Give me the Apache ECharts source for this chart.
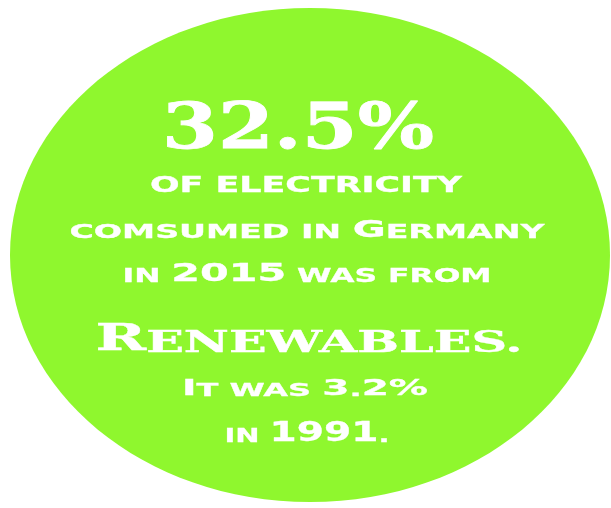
<!DOCTYPE html>
<html>
<head>
<meta charset="utf-8">
<script src="https://cdn.jsdelivr.net/npm/echarts@6/dist/echarts.min.js"></script>
<style>
  html, body { margin: 0; padding: 0; background: #fff; }
  #main { width: 611px; height: 508px; }
</style>
</head>
<body>
<div id="main"></div>
<script>
// headline figures
var share2015 = 32.5;
var share1991 = 3.2;
var years = [2015, 1991];
var country = 'Germany';

// text lines, in reading order
var lines = [
  share2015 + '%',
  'of electricity',
  'comsumed in ' + country,
  'in ' + years[0] + ' was from',
  'Renewables.',
  'It was ' + share1991 + '%',
  'in ' + years[1] + '.'
];

var SANS = '"DejaVu Sans"';
var SERIF = '"DejaVu Serif"';

// per line: font, sizes of caps / small caps / digits, baseline y, width, centre x, extra weight
var layout = [
  { font: SERIF, cap: 64, sc: 64, num: 64, y: 149, w: 272, x: 298, bold: 0.8 },
  { font: SANS, cap: 23, sc: 21, num: 23, y: 192, w: 312, x: 306, bold: 0.3 },
  { font: SANS, cap: 23, sc: 19, num: 25, y: 237, w: 475, x: 307, bold: 0.3 },
  { font: SANS, cap: 23, sc: 19, num: 25, y: 281, w: 369, x: 307, bold: 0.3 },
  { font: SERIF, cap: 37, sc: 30, num: 37, y: 351, w: 427, x: 309, bold: 0.4 },
  { font: SANS, cap: 22, sc: 18, num: 22, y: 395, w: 246, x: 305, bold: 0.3 },
  { font: SANS, cap: 20, sc: 20, num: 27, y: 441, w: 165, x: 307, bold: 0.3 }
];

var ctx = document.createElement('canvas').getContext('2d');

// split a line into small-caps runs
function runs(str) {
  var out = [];
  for (var i = 0; i < str.length; i++) {
    var c = str[i];
    var kind = /[A-Z]/.test(c) ? 'cap' : /[0-9%]/.test(c) ? 'num' : 'sc';
    var last = out[out.length - 1];
    if (last && last.kind === kind) last.text += c.toUpperCase();
    else out.push({ kind: kind, text: c.toUpperCase() });
  }
  return out;
}

function makeLine(str, L) {
  var parts = runs(str);
  var width = 0;
  var markup = '';
  parts.forEach(function (p) {
    ctx.font = 'bold ' + L[p.kind] + 'px ' + L.font;
    width += ctx.measureText(p.text).width;
    markup += '{' + p.kind + '|' + p.text + '}';
  });
  var maxSize = Math.max(L.cap, L.sc, L.num);
  var rich = {};
  ['cap', 'sc', 'num'].forEach(function (k) {
    rich[k] = {
      fontSize: L[k],
      fontFamily: L.font,
      fontWeight: 'bold',
      lineHeight: maxSize,
      verticalAlign: 'bottom'
    };
  });
  return {
    type: 'text',
    x: L.x,
    y: L.y + Math.round(maxSize * 0.22),
    scaleX: L.w / width,
    z: 10,
    style: {
      text: markup,
      rich: rich,
      fill: '#ffffff',
      stroke: '#ffffff',
      lineWidth: L.bold,
      align: 'center',
      verticalAlign: 'bottom'
    }
  };
}

var myChart = echarts.init(document.getElementById('main'), null, { renderer: 'canvas' });

var elements = [{
  type: 'ellipse',
  shape: { cx: 310, cy: 255, rx: 300, ry: 247 },
  style: { fill: '#8ff72e' },
  z: 1
}];
lines.forEach(function (s, i) {
  elements.push(makeLine(s, layout[i]));
});

var option = {
  backgroundColor: '#ffffff',
  animation: false,
  graphic: elements
};

myChart.setOption(option);
</script>
</body>
</html>
